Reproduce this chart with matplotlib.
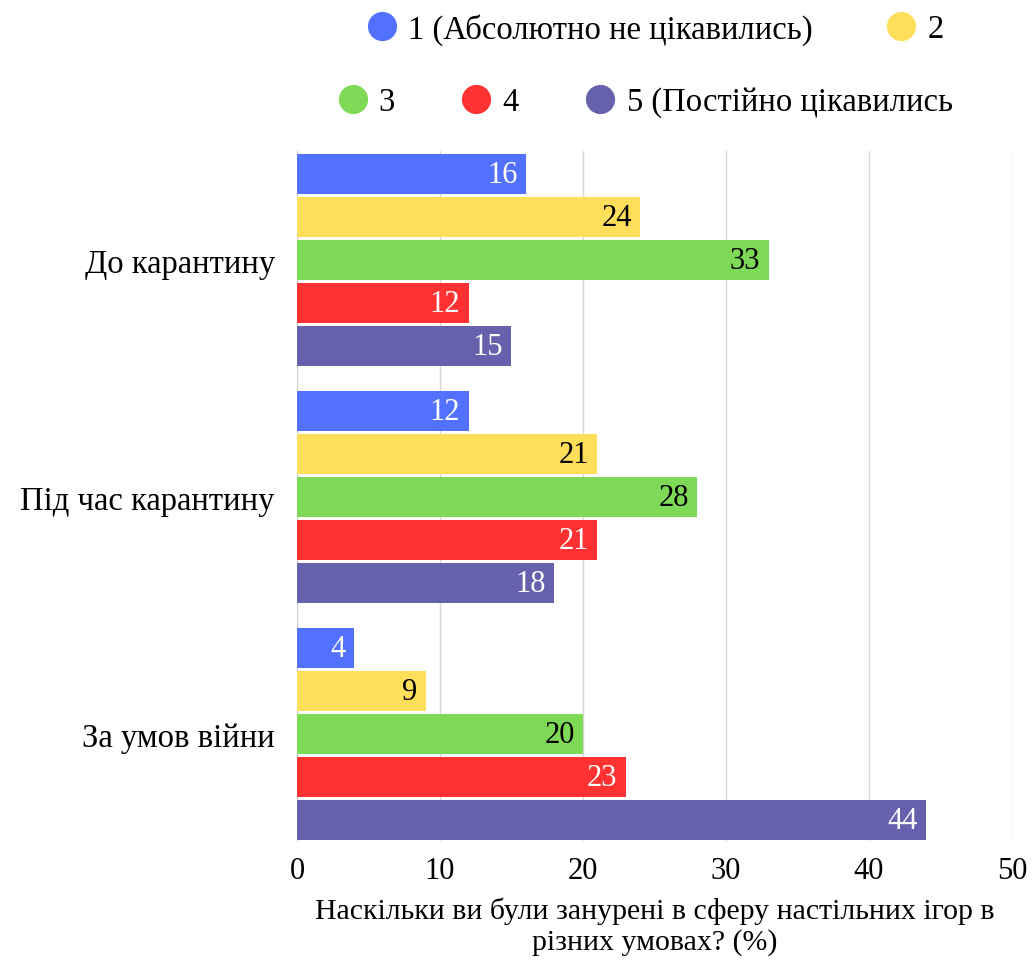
import matplotlib
matplotlib.use("Agg")
import matplotlib.pyplot as plt
import numpy as np
from matplotlib.lines import Line2D

plt.rcParams['font.family'] = ['Liberation Serif', 'DejaVu Serif']

categories = ["До карантину", "Під час карантину", "За умов війни"]
series_names = ["1 (Абсолютно не цікавились)", "2", "3", "4", "5 (Постійно цікавились"]
values = [
    [16, 12, 4],
    [24, 21, 9],
    [33, 28, 20],
    [12, 21, 23],
    [15, 18, 44],
]
colors = ["#5271FF", "#FFDE59", "#7ED957", "#FF3131", "#6661AC"]
label_colors = ["white", "black", "black", "white", "white"]
xticks = [0, 10, 20, 30, 40, 50]
xlabel = "Наскільки ви були занурені в сферу настільних ігор в\nрізних умовах? (%)"

fig = plt.figure(figsize=(10.36, 9.62), dpi=100)
ax = fig.add_axes([0.2867, 0.1247, 0.690, 0.7173])

y = np.arange(len(categories))
pitch = 0.1814
h = 0.169
fs = 22
for i, (vals, c, lc) in enumerate(zip(values, colors, label_colors)):
    pos = y + (i - 2) * pitch
    ax.barh(pos, vals, height=h, color=c, label=series_names[i], zorder=3)
    for v, p in zip(vals, pos):
        ax.annotate(str(v), xy=(v, p), xytext=(-6, 0), textcoords='offset points',
                    ha='right', va='center', color=lc, fontsize=fs, zorder=4)

ax.set_xlim(0, 50)
ax.set_ylim(2.45, -0.46)
ax.set_xticks(xticks)
ax.set_xticklabels([str(t) for t in xticks], fontsize=fs)
ax.set_yticks(y)
ax.set_yticklabels(categories, fontsize=23.5)
ax.tick_params(axis='both', length=0)
ax.tick_params(axis='x', pad=11)
ax.tick_params(axis='y', pad=16)
ax.grid(axis='x', color='#D5D5D5', linewidth=1, zorder=0)
for s in ax.spines.values():
    s.set_visible(False)
ax.axvline(0, color='#D5D5D5', linewidth=1, zorder=1)

ax.set_xlabel(xlabel, fontsize=21.5, labelpad=8, linespacing=1.22)

handles = [Line2D([], [], marker='o', linestyle='none', markersize=20,
                  markerfacecolor=c, markeredgecolor=c) for c in colors]
leg1 = fig.legend(handles[:2], series_names[:2], loc='center', bbox_to_anchor=(0.632, 0.969),
                  ncol=2, frameon=False, fontsize=23.5, handletextpad=0.3, columnspacing=2.2,
                  handlelength=1.0)
leg2 = fig.legend(handles[2:], series_names[2:], loc='center', bbox_to_anchor=(0.622, 0.893),
                  ncol=3, frameon=False, fontsize=23.5, handletextpad=0.3, columnspacing=2.0,
                  handlelength=1.0)

fig.savefig("out.png", dpi=100)
